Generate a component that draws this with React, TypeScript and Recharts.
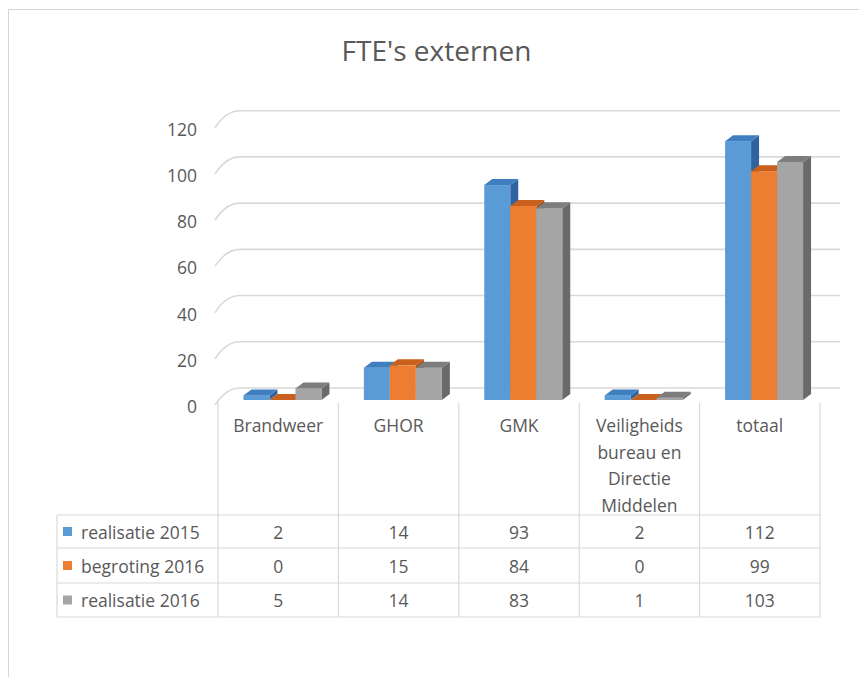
import React from 'react';
import { BarChart, Bar, XAxis, YAxis, CartesianGrid } from 'recharts';

const categories = ['Brandweer', 'GHOR', 'GMK', 'Veiligheids\nbureau en\nDirectie\nMiddelen', 'totaal'];
const realisatie2015 = [2, 14, 93, 2, 112];
const begroting2016 = [0, 15, 84, 0, 99];
const realisatie2016 = [5, 14, 83, 1, 103];
const yTicks = [0, 20, 40, 60, 80, 100, 120];
const seriesNames = ['realisatie 2015', 'begroting 2016', 'realisatie 2016'];
const seriesKeys = ['r2015', 'b2016', 'r2016'];

const seriesValues = [realisatie2015, begroting2016, realisatie2016];
const data = categories.map((c, i) => ({
  name: c,
  r2015: realisatie2015[i],
  b2016: begroting2016[i],
  r2016: realisatie2016[i],
}));

const COLORS = [
  { front: '#5b9bd5', top: '#3f7fc0', side: '#2f63a0' },
  { front: '#ed7d31', top: '#c9611c', side: '#a94f14' },
  { front: '#a5a5a5', top: '#7d7d7d', side: '#6a6a6a' },
];

const FONT = '"Open Sans", sans-serif';
const TEXT = '#595959';
const LINE = '#d9d9d9';

const W = 859;
const H = 677;
const PLOT_LEFT = 218;
const PLOT_RIGHT = 820;
const PLOT_TOP = 122.7;
const PLOT_BOTTOM = 400;
const X_AXIS_H = 30;
const Y_AXIS_W = 40;
const TABLE_LEFT = 57;
const ROW_LINES = [515, 548, 583, 617];
const HEADER_TOP = 403;

const DEPTH_X = 8;
const DEPTH_Y = 6;
const SHIFT = 5;

const make3D = (ci: number) => (props: any) => {
  const { x, y, width, height } = props;
  if (x == null || y == null) return <g />;
  const c = COLORS[ci];
  const x0 = x + SHIFT;
  const h = Math.max(0, height);
  const top = `M${x0},${y} L${x0 + DEPTH_X},${y - DEPTH_Y} L${x0 + width + DEPTH_X},${y - DEPTH_Y} L${x0 + width},${y} Z`;
  const side = `M${x0 + width},${y} L${x0 + width + DEPTH_X},${y - DEPTH_Y} L${x0 + width + DEPTH_X},${y + h - DEPTH_Y} L${x0 + width},${y + h} Z`;
  return (
    <g>
      <path d={side} fill={c.side} />
      {h > 0 && <rect x={x0} y={y} width={width} height={h} fill={c.front} />}
      <path d={top} fill={c.top} />
    </g>
  );
};

const gridLine = (p: any) => {
  const { x1, x2, y1 } = p;
  const y = y1;
  const d = `M${x1 - 3},${y + 5} Q${x1 + 8},${y - 12} ${x1 + 22},${y - 12} L${x2 + 20},${y - 12}`;
  return <path key={p.key ?? `g-${y}`} d={d} fill="none" stroke={LINE} strokeWidth={1.6} />;
};

const YTick = (props: any) => {
  const { y, payload } = props;
  return (
    <text
      x={PLOT_LEFT - 21}
      y={y + 6}
      textAnchor="end"
      dominantBaseline="central"
      fill={TEXT}
      fontSize={17.5}
      fontFamily={FONT}
    >
      {payload.value}
    </text>
  );
};

const XTick = (props: any) => {
  const { x, payload, index } = props;
  const half = payload.offset ?? 60;
  const left = x - half;
  const right = x + half;
  const lines = String(payload.value).split('\n');
  const last = index === categories.length - 1;
  return (
    <g>
      <line x1={left} y1={HEADER_TOP} x2={left} y2={ROW_LINES[3]} stroke={LINE} strokeWidth={1.2} />
      {last && <line x1={right} y1={HEADER_TOP} x2={right} y2={ROW_LINES[3]} stroke={LINE} strokeWidth={1.2} />}
      {lines.map((l, i) => (
        <text
          key={i}
          x={x}
          y={PLOT_BOTTOM + 25 + i * 26.5}
          textAnchor="middle"
          dominantBaseline="central"
          fill={TEXT}
          fontSize={17.5}
          fontFamily={FONT}
        >
          {l}
        </text>
      ))}
      {seriesValues.map((vals, r) => (
        <text
          key={`v${r}`}
          x={x}
          y={(ROW_LINES[r] + ROW_LINES[r + 1]) / 2}
          textAnchor="middle"
          dominantBaseline="central"
          fill={TEXT}
          fontSize={17.5}
          fontFamily={FONT}
        >
          {vals[index]}
        </text>
      ))}
    </g>
  );
};

export default function App() {
  return (
    <div style={{ position: 'relative', width: W, height: H, background: '#fff', overflow: 'hidden' }}>
      <style>{`body{margin:0;}`}</style>
      <div
        style={{
          position: 'absolute',
          left: 8,
          top: 9,
          width: W,
          height: H,
          borderLeft: '1.5px solid #d6d6d6',
          borderTop: '1.5px solid #d6d6d6',
        }}
      />
      <div
        style={{
          position: 'absolute',
          left: 0,
          width: W,
          top: 30,
          textAlign: 'center',
          paddingLeft: 14,
          boxSizing: 'border-box',
          fontFamily: FONT,
          fontSize: 28,
          color: TEXT,
          lineHeight: '40px',
        }}
      >
        FTE's externen
      </div>
      <div style={{ position: 'absolute', left: 0, top: 0 }}>
        <BarChart
          width={W}
          height={H}
          data={data}
          margin={{
            top: PLOT_TOP,
            right: W - PLOT_RIGHT,
            bottom: H - PLOT_BOTTOM - X_AXIS_H,
            left: PLOT_LEFT - Y_AXIS_W,
          }}
          barCategoryGap="17%"
          barGap={0}
        >
          <CartesianGrid vertical={false} horizontal={gridLine} />
          <XAxis
            dataKey="name"
            interval={0}
            height={X_AXIS_H}
            axisLine={false}
            tickLine={false}
            tick={<XTick />}
          />
          <YAxis
            domain={[0, 120]}
            ticks={yTicks}
            width={Y_AXIS_W}
            axisLine={false}
            tickLine={false}
            tick={<YTick />}
            interval={0}
          />
          {seriesKeys.map((k, i) => (
            <Bar key={k} dataKey={k} isAnimationActive={false} shape={make3D(i)} />
          ))}
        </BarChart>
      </div>
      <svg style={{ position: 'absolute', left: 0, top: 0, pointerEvents: 'none' }} width={W} height={H}>
        {ROW_LINES.map((y, i) => (
          <line key={i} x1={TABLE_LEFT} y1={y} x2={PLOT_RIGHT} y2={y} stroke={LINE} strokeWidth={1.2} />
        ))}
        <line x1={TABLE_LEFT} y1={ROW_LINES[0]} x2={TABLE_LEFT} y2={ROW_LINES[3]} stroke={LINE} strokeWidth={1.2} />
        {seriesNames.map((n, r) => {
          const cy = (ROW_LINES[r] + ROW_LINES[r + 1]) / 2;
          return (
            <g key={n}>
              <rect x={63} y={cy - 4.5} width={9} height={9} fill={COLORS[r].front} />
              <text
                x={81}
                y={cy}
                dominantBaseline="central"
                fill={TEXT}
                fontSize={17.5}
                fontFamily={FONT}
              >
                {n}
              </text>
            </g>
          );
        })}
      </svg>
    </div>
  );
}
